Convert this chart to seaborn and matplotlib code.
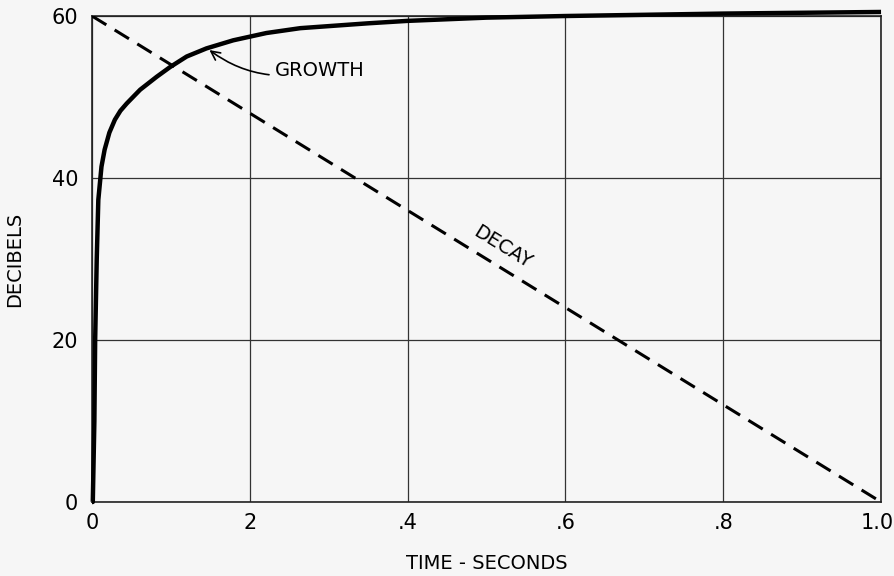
import matplotlib
matplotlib.use("Agg")
import matplotlib.pyplot as plt
import matplotlib.transforms as mtransforms
import seaborn as sns
import pandas as pd
import numpy as np

# Data
growth_t = [0.0, 0.001, 0.003, 0.004, 0.006, 0.008, 0.012, 0.016, 0.022, 0.029,
            0.036, 0.044, 0.061, 0.082, 0.099, 0.120, 0.145, 0.179, 0.221, 0.264,
            0.35, 0.40, 0.50, 0.60, 0.80, 1.00]
growth_db = [0.0, 0.0, 10.0, 20.0, 30.0, 37.3, 41.4, 43.5, 45.6, 47.2,
             48.3, 49.2, 50.9, 52.5, 53.7, 55.0, 56.0, 57.0, 57.9, 58.5,
             59.1, 59.4, 59.8, 60.0, 60.3, 60.5]
decay_t = [0.0, 1.0]
decay_db = [60.0, 0.0]

x_ticks = [0.0, 0.2, 0.4, 0.6, 0.8, 1.0]
x_tick_labels = ["0", "2", ".4", ".6", ".8", "1.0"]
y_ticks = [0, 20, 40, 60]
y_tick_labels = ["0", "20", "40", "60"]

growth_df = pd.DataFrame({"t": growth_t, "db": growth_db})
decay_df = pd.DataFrame({"t": decay_t, "db": decay_db})

sns.set_theme(style="white")
plt.rcParams["font.family"] = ["DejaVu Sans"]

bg = "#f6f6f6"
fig = plt.figure(figsize=(8.95, 5.76), dpi=100, facecolor=bg)
ax = fig.add_axes([0.1028, 0.1285, 0.8816, 0.8437])
ax.set_facecolor(bg)

sns.lineplot(data=growth_df, x="t", y="db", ax=ax, color="black",
             linewidth=3.2, sort=False, estimator=None, clip_on=False,
             solid_capstyle="butt", solid_joinstyle="round", zorder=4)
sns.lineplot(data=decay_df, x="t", y="db", ax=ax, color="black",
             linewidth=2.2, sort=False, estimator=None, zorder=3,
             dashes=False)
ax.lines[-1].set_linestyle((0, (5.5, 3.2)))

ax.set_xlim(0, 1)
ax.set_ylim(0, 60)
ax.set_xticks(x_ticks)
ax.set_xticklabels(x_tick_labels)
ax.set_yticks(y_ticks)
ax.set_yticklabels(y_tick_labels)
ax.tick_params(axis="both", length=0, labelsize=15, colors="black")
ax.tick_params(axis="x", pad=8)
ax.tick_params(axis="y", pad=10)
ax.grid(True, color="#333333", linewidth=0.9)
for s in ax.spines.values():
    s.set_color("#222222")
    s.set_linewidth(1.2)

# keep the last x label inside the figure
last = ax.get_xticklabels()[-1]
last.set_horizontalalignment("right")
last.set_transform(last.get_transform() +
                   mtransforms.ScaledTranslation(13 / 100, 0, fig.dpi_scale_trans))

ax.set_xlabel("TIME - SECONDS", fontsize=14, labelpad=15, color="black")
ax.set_ylabel("DECIBELS", fontsize=14, labelpad=20, color="black")

# Annotations
ax.annotate("GROWTH", xy=(0.146, 56.0), xytext=(0.232, 53.3),
            fontsize=14, va="center", ha="left", color="black",
            arrowprops=dict(arrowstyle="->", color="black", lw=1.2,
                            connectionstyle="arc3,rad=-0.25",
                            shrinkA=2, shrinkB=2, mutation_scale=16))

p1 = ax.transData.transform((0, 60))
p2 = ax.transData.transform((1, 0))
ang = np.degrees(np.arctan2(p2[1] - p1[1], p2[0] - p1[0]))
ax.text(0.52, 31.4, "DECAY", fontsize=14, rotation=ang,
        rotation_mode="anchor", ha="center", va="center", color="black")

fig.savefig("out.png", dpi=100, facecolor=bg)
